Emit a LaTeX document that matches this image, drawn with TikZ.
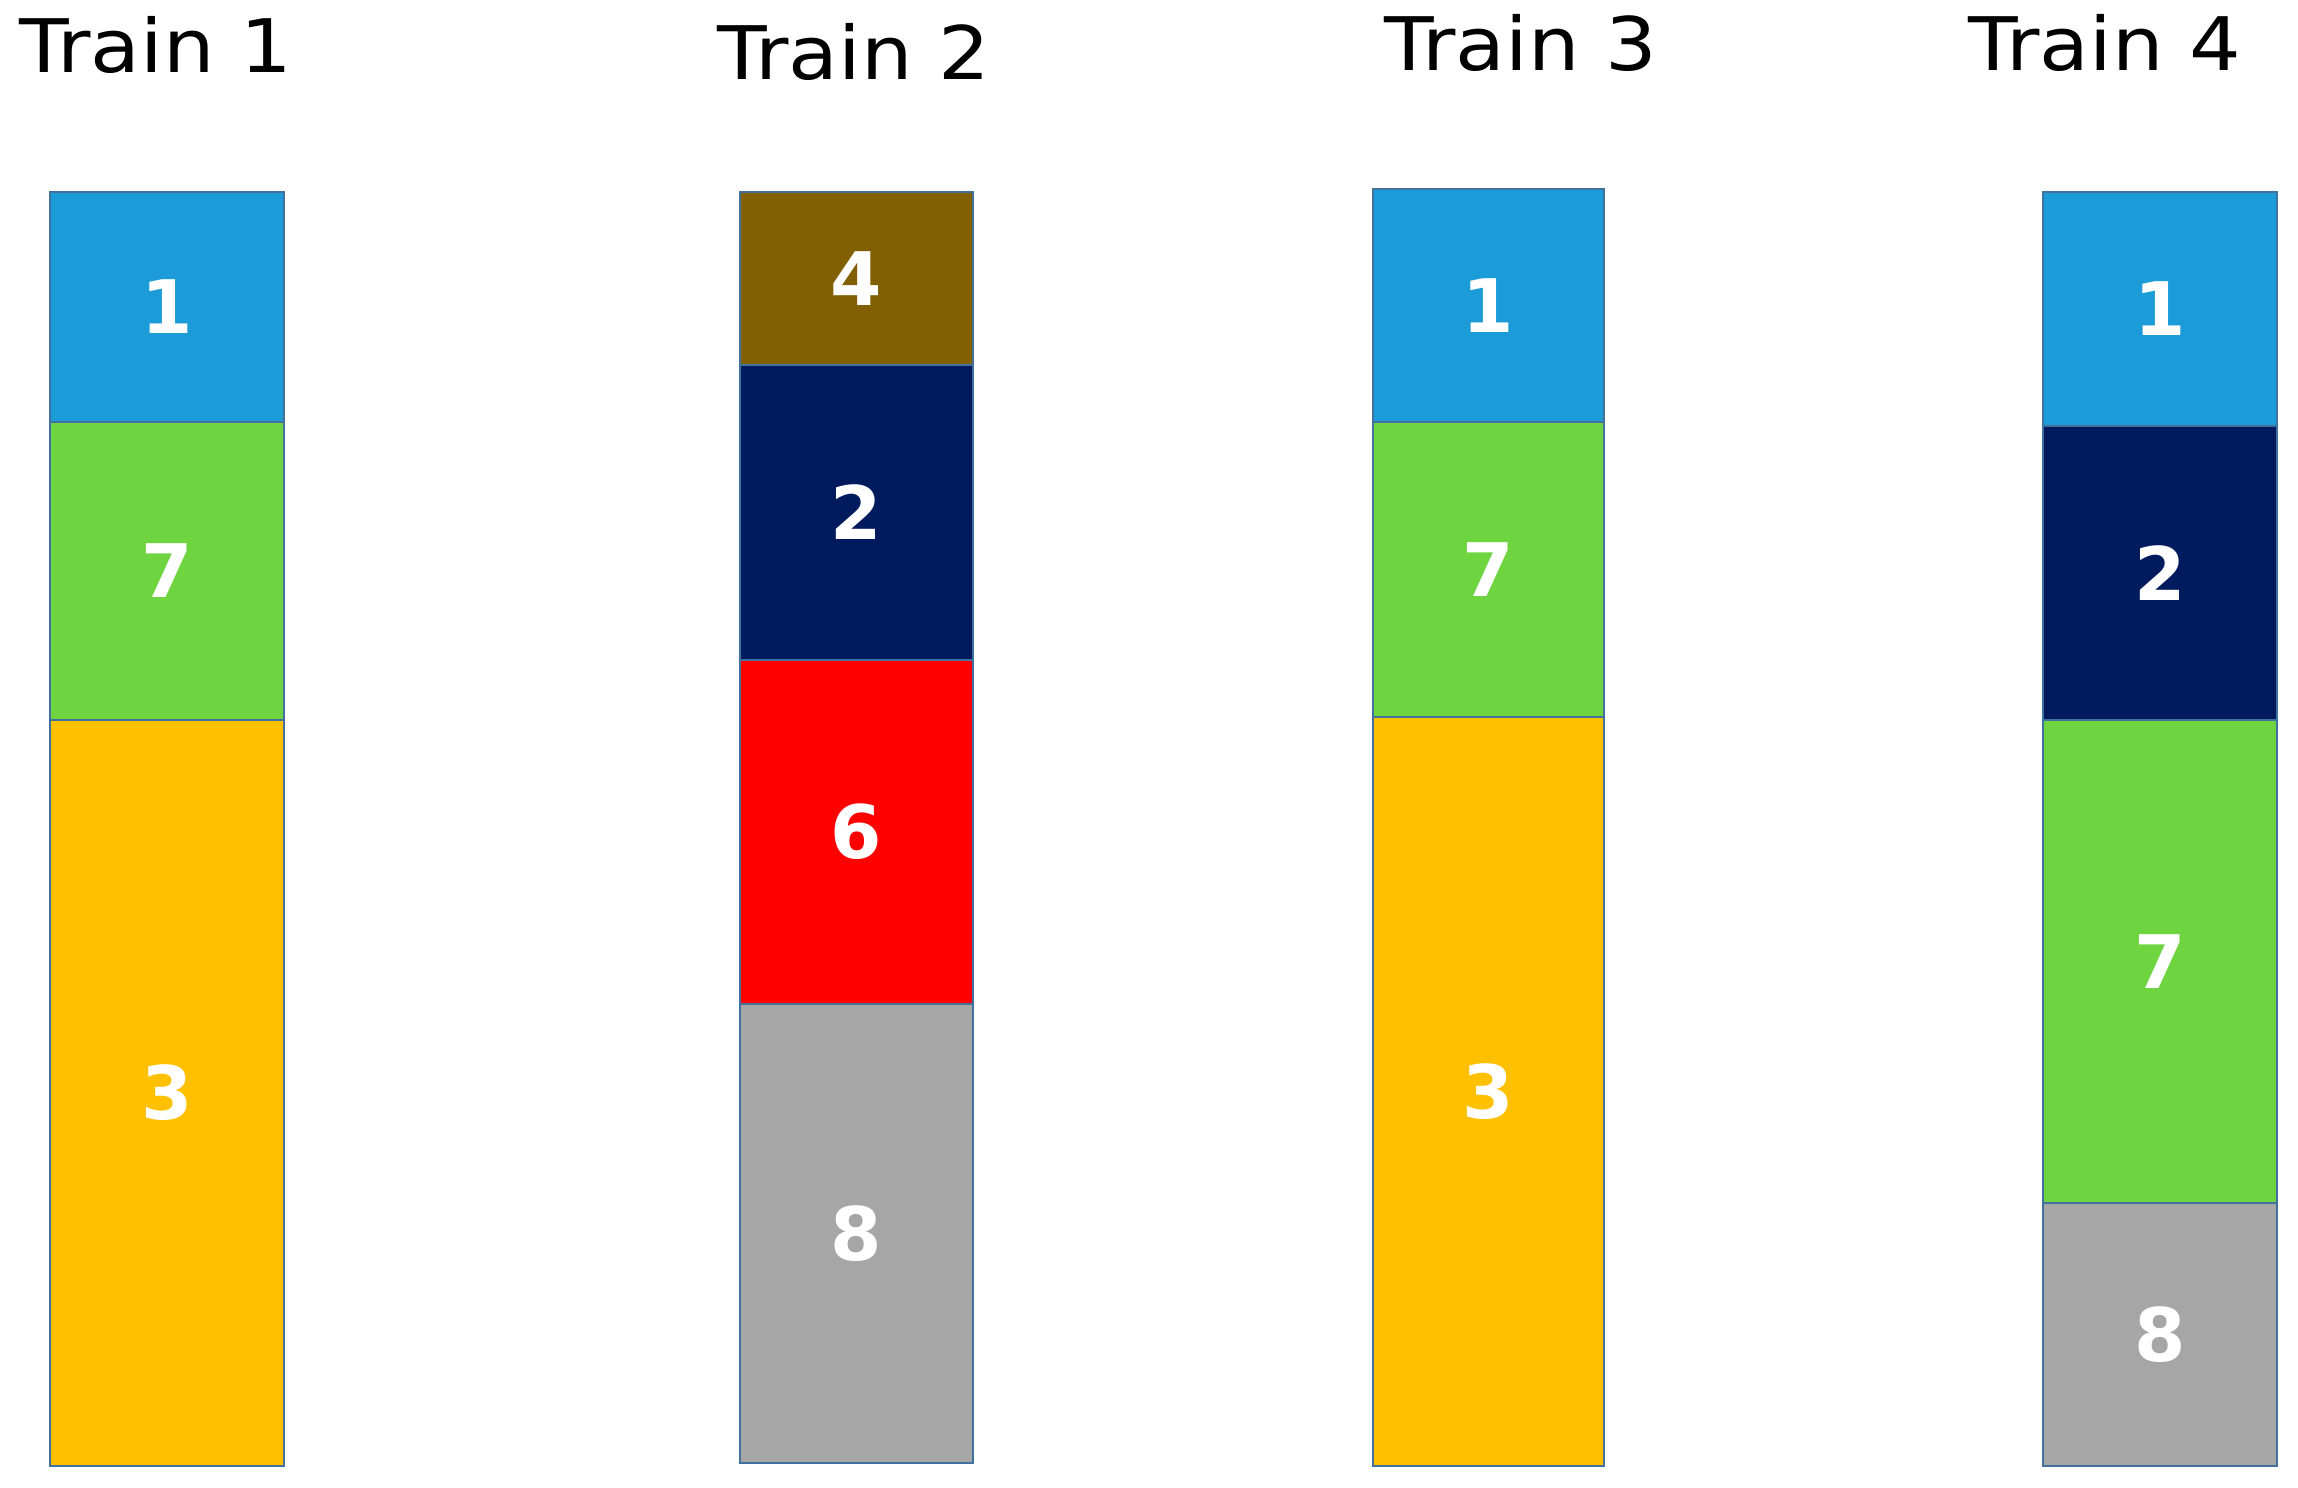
\documentclass[tikz,border=0pt]{standalone}
\usepackage{fontspec}
\setmainfont{DejaVu Sans}
\definecolor{cblue}{RGB}{27,155,215}
\definecolor{cgreen}{RGB}{110,212,64}
\definecolor{cyellow}{RGB}{255,192,0}
\definecolor{cnavy}{RGB}{0,26,94}
\definecolor{cbrown}{RGB}{130,95,0}
\definecolor{cred}{RGB}{255,0,0}
\definecolor{cgray}{RGB}{166,166,166}
\definecolor{cedge}{RGB}{65,113,156}
\newcommand{\ttl}[1]{\scalebox{1.1}[1]{#1}}
\begin{document}
\begin{tikzpicture}[x=0.01cm,y=-0.01cm,
  seg/.style={draw=cedge, line width=0.6pt, inner sep=0pt, outer sep=0pt,
    text=white, font=\fontsize{21}{25}\selectfont\bfseries},
  title/.style={anchor=base, inner sep=0pt, font=\fontsize{21}{26}\selectfont}]
\useasboundingbox (0,0) rectangle (2298,1487);
% Titles
\node[title] (h1) at (156,72) {\ttl{Train 1}};
\node[title] (h2) at (854,79) {\ttl{Train 2}};
\node[title] (h3) at (1521,70) {\ttl{Train 3}};
\node[title] (h4) at (2105,70) {\ttl{Train 4}};
% Train 1
\node[seg, fill=cblue,   minimum width=2.34cm, minimum height=2.30cm] (t1a) at (167,307) {1};
\node[seg, fill=cgreen,  minimum width=2.34cm, minimum height=2.98cm] (t1b) at (167,571) {7};
\node[seg, fill=cyellow, minimum width=2.34cm, minimum height=7.46cm] (t1c) at (167,1093) {3};
% Train 2
\node[seg, fill=cbrown,  minimum width=2.33cm, minimum height=1.73cm] (t2a) at (856.5,278.5) {4};
\node[seg, fill=cnavy,   minimum width=2.33cm, minimum height=2.95cm] (t2b) at (856.5,512.5) {2};
\node[seg, fill=cred,    minimum width=2.33cm, minimum height=3.44cm] (t2c) at (856.5,832) {6};
\node[seg, fill=cgray,   minimum width=2.33cm, minimum height=4.59cm] (t2d) at (856.5,1233.5) {8};
% Train 3
\node[seg, fill=cblue,   minimum width=2.31cm, minimum height=2.33cm] (t3a) at (1488.5,305.5) {1};
\node[seg, fill=cgreen,  minimum width=2.31cm, minimum height=2.95cm] (t3b) at (1488.5,569.5) {7};
\node[seg, fill=cyellow, minimum width=2.31cm, minimum height=7.49cm] (t3c) at (1488.5,1091.5) {3};
% Train 4
\node[seg, fill=cblue,   minimum width=2.34cm, minimum height=2.34cm] (t4a) at (2160,309) {1};
\node[seg, fill=cnavy,   minimum width=2.34cm, minimum height=2.94cm] (t4b) at (2160,573) {2};
\node[seg, fill=cgreen,  minimum width=2.34cm, minimum height=4.83cm] (t4c) at (2160,961.5) {7};
\node[seg, fill=cgray,   minimum width=2.34cm, minimum height=2.63cm] (t4d) at (2160,1334.5) {8};
\end{tikzpicture}
\end{document}
